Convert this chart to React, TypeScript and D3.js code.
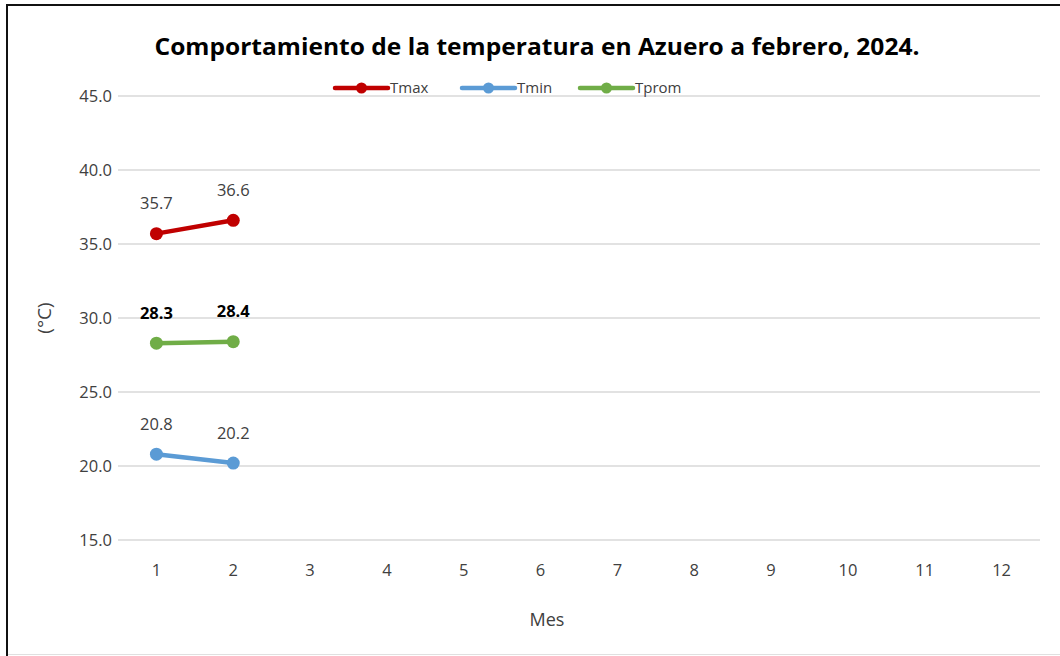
import React, { useEffect, useRef } from 'react';
import * as d3 from 'd3';

const months = [1, 2, 3, 4, 5, 6, 7, 8, 9, 10, 11, 12];
const tmax = [35.7, 36.6];
const tmin = [20.8, 20.2];
const tprom = [28.3, 28.4];
const yTicks = [15, 20, 25, 30, 35, 40, 45];

const series = [
  { name: 'Tmax', values: tmax, color: '#C00000', bold: false },
  { name: 'Tmin', values: tmin, color: '#5B9BD5', bold: false },
  { name: 'Tprom', values: tprom, color: '#70AD47', bold: true },
];

const App: React.FC = () => {
  const ref = useRef<SVGSVGElement | null>(null);

  useEffect(() => {
    if (!ref.current) return;
    const svg = d3.select(ref.current);
    svg.selectAll('*').remove();

    const width = 1060;
    const height = 656;
    const font = "'Open Sans', 'Liberation Sans', sans-serif";
    const margin = { top: 96, right: 20, bottom: 116, left: 118 };

    svg.append('rect').attr('width', width).attr('height', height).attr('fill', '#fff');

    // frame
    svg.append('line').attr('x1', 7).attr('x2', 7).attr('y1', 4).attr('y2', height)
      .attr('stroke', '#111').attr('stroke-width', 2);
    svg.append('line').attr('x1', 6).attr('x2', width).attr('y1', 5).attr('y2', 5)
      .attr('stroke', '#111').attr('stroke-width', 2);
    svg.append('line').attr('x1', 8).attr('x2', width).attr('y1', 654.5).attr('y2', 654.5)
      .attr('stroke', '#e0e0e0').attr('stroke-width', 1);

    const x = d3.scaleBand<number>()
      .domain(months)
      .range([margin.left, width - margin.right]);

    const y = d3.scaleLinear()
      .domain([15, 45])
      .range([height - margin.bottom, margin.top]);

    // grid lines
    svg.append('g')
      .selectAll('line')
      .data(yTicks)
      .enter()
      .append('line')
      .attr('x1', margin.left)
      .attr('x2', width - margin.right)
      .attr('y1', (d) => y(d))
      .attr('y2', (d) => y(d))
      .attr('stroke', '#d9d9d9')
      .attr('stroke-width', 1.5);

    // y tick labels
    svg.append('g')
      .selectAll('text')
      .data(yTicks)
      .enter()
      .append('text')
      .attr('x', margin.left - 6)
      .attr('y', (d) => y(d))
      .attr('dy', '0.35em')
      .attr('text-anchor', 'end')
      .attr('font-family', font)
      .attr('font-size', 16.5)
      .attr('fill', '#404040')
      .text((d) => d3.format('.1f')(d));

    // x tick labels
    svg.append('g')
      .selectAll('text')
      .data(months)
      .enter()
      .append('text')
      .attr('x', (d) => (x(d) as number) + x.bandwidth() / 2)
      .attr('y', y(15) + 30)
      .attr('dy', '0.35em')
      .attr('text-anchor', 'middle')
      .attr('font-family', font)
      .attr('font-size', 16.5)
      .attr('fill', '#404040')
      .text((d) => String(d));

    // axis titles
    svg.append('text')
      .attr('x', 547)
      .attr('y', 620)
      .attr('dy', '0.35em')
      .attr('text-anchor', 'middle')
      .attr('font-family', font)
      .attr('font-size', 18)
      .attr('fill', '#404040')
      .text('Mes');

    svg.append('text')
      .attr('transform', `translate(44, ${y(30)}) rotate(-90)`)
      .attr('dy', '0.35em')
      .attr('text-anchor', 'middle')
      .attr('font-family', font)
      .attr('font-size', 19)
      .attr('fill', '#404040')
      .text('(°C)');

    // title
    svg.append('text')
      .attr('x', 537)
      .attr('y', 47)
      .attr('dy', '0.35em')
      .attr('text-anchor', 'middle')
      .attr('font-family', font)
      .attr('font-size', 23)
      .attr('font-weight', 'bold')
      .attr('fill', '#000')
      .attr('textLength', 765)
      .attr('lengthAdjust', 'spacingAndGlyphs')
      .text('Comportamiento de la temperatura en Azuero a febrero, 2024.');

    // legend
    const legendX = [335, 462, 580];
    series.forEach((s, i) => {
      const lg = svg.append('g').attr('transform', `translate(${legendX[i]}, 88)`);
      lg.append('line').attr('x1', 0).attr('x2', 53).attr('y1', 0).attr('y2', 0)
        .attr('stroke', s.color).attr('stroke-width', 4.5).attr('stroke-linecap', 'round');
      lg.append('circle').attr('cx', 26.5).attr('cy', 0).attr('r', 5.5).attr('fill', s.color);
      lg.append('text').attr('x', 55).attr('y', 0).attr('dy', '0.35em')
        .attr('font-family', font).attr('font-size', 15).attr('fill', '#404040')
        .text(s.name);
    });

    // series
    const line = d3.line<number>()
      .x((_, i) => (x(months[i]) as number) + x.bandwidth() / 2)
      .y((d) => y(d));

    series.forEach((s) => {
      const g = svg.append('g');
      g.append('path')
        .datum(s.values)
        .attr('d', line)
        .attr('fill', 'none')
        .attr('stroke', s.color)
        .attr('stroke-width', 4.5)
        .attr('stroke-linecap', 'round');
      g.selectAll('circle')
        .data(s.values)
        .enter()
        .append('circle')
        .attr('cx', (_, i) => (x(months[i]) as number) + x.bandwidth() / 2)
        .attr('cy', (d) => y(d))
        .attr('r', 6.5)
        .attr('fill', s.color);
      g.selectAll('text')
        .data(s.values)
        .enter()
        .append('text')
        .attr('x', (_, i) => (x(months[i]) as number) + x.bandwidth() / 2)
        .attr('y', (d) => y(d) - 30)
        .attr('dy', '0.35em')
        .attr('text-anchor', 'middle')
        .attr('font-family', font)
        .attr('font-size', 16.5)
        .attr('font-weight', s.bold ? 'bold' : 'normal')
        .attr('fill', s.bold ? '#000' : '#404040')
        .text((d) => d3.format('.1f')(d));
    });
  }, []);

  return (
    <svg
      ref={ref}
      width={1060}
      height={656}
      style={{ position: 'absolute', left: 0, top: 0, display: 'block' }}
    />
  );
};

export default App;
